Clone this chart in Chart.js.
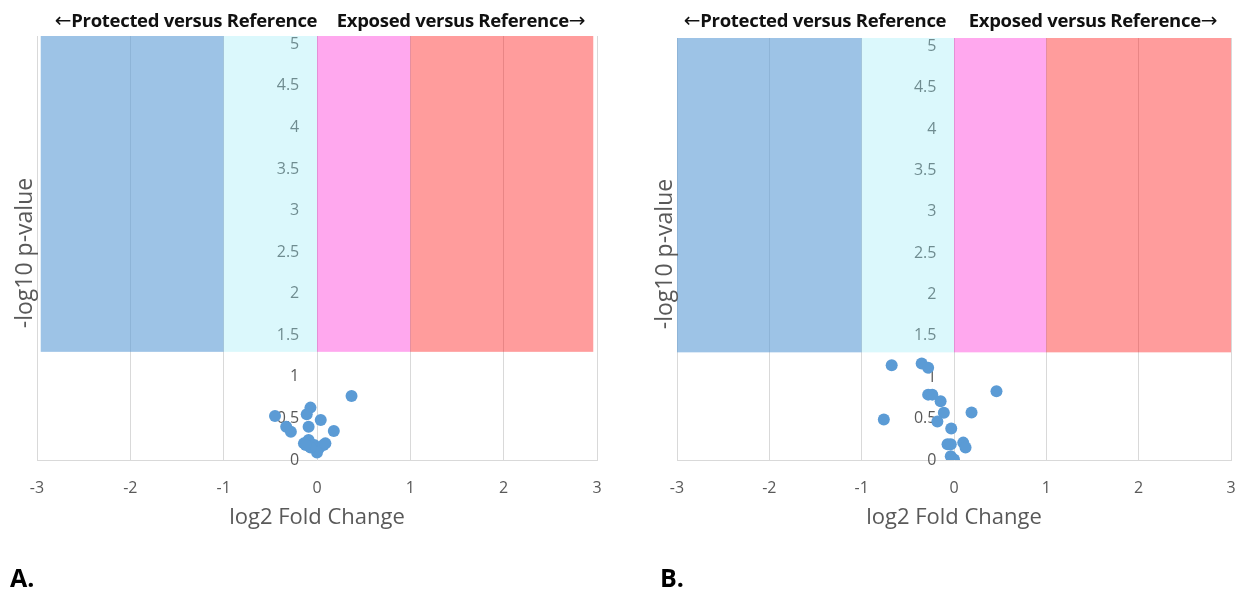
<!DOCTYPE html>
<html><head><meta charset="utf-8">
<script src="https://cdn.jsdelivr.net/npm/chart.js@4/dist/chart.umd.min.js"></script>
<style>
body{margin:0;background:#fff;width:1238px;height:597px;overflow:hidden;position:relative;font-family:"Open Sans",sans-serif;}
.wrap{position:absolute;top:0;height:597px;}
.hdr{position:absolute;top:7px;font-weight:700;font-size:18.5px;color:#111;white-space:nowrap;transform:translateX(-50%);letter-spacing:-0.3px;}
.hdr .ar{font-family:"DejaVu Sans",sans-serif;font-weight:400;font-size:20px;}
.ytitle{position:absolute;color:#595959;white-space:nowrap;transform:translate(-50%,-50%) rotate(-90deg);font-size:23px;}
.panel{position:absolute;top:560px;font-weight:700;font-size:25px;color:#000;}
</style></head>
<body>
<div class="wrap" style="left:0;width:625px"><canvas id="cA" width="625" height="597"></canvas></div>
<div class="wrap" style="left:619px;width:640px"><canvas id="cB" width="640" height="597"></canvas></div>
<div class="hdr" style="left:186px"><span class="ar">←</span>Protected versus Reference</div>
<div class="hdr" style="left:461px">Exposed versus Reference<span class="ar">→</span></div>
<div class="hdr" style="left:815px"><span class="ar">←</span>Protected versus Reference</div>
<div class="hdr" style="left:1093px">Exposed versus Reference<span class="ar">→</span></div>
<div class="ytitle" style="left:23px;top:253px">-log10 p-value</div>
<div class="ytitle" style="left:663px;top:254px">-log10 p-value</div>
<div class="panel" style="left:10px">A.</div>
<div class="panel" style="left:660px">B.</div>
<script>
// ---- data ----
const xTickValues = [-3, -2, -1, 0, 1, 2, 3];
const yTickValues = [0, 0.5, 1, 1.5, 2, 2.5, 3, 3.5, 4, 4.5, 5];
const xAxisTitle = "log2 Fold Change";
const significanceThreshold = 1.301;   // -log10(0.05)
const bandTop = 5.1;
const bandColors = ["rgba(91,155,213,0.6)", "rgba(152,235,246,0.35)", "rgba(255,0,204,0.34)", "rgba(255,0,0,0.39)"];
const panelA_bandEdges = [-2.96, -1, 0, 1, 2.96];
const panelB_bandEdges = [-3, -1, 0, 1, 3];

const panelA_log2FC   = [0.37, -0.45, -0.07, -0.11, 0.04, -0.33, -0.28, -0.09, 0.18, -0.14, -0.09, -0.03, 0.02, 0.07, 0.00, -0.07, -0.12, 0.09];
const panelA_negLogP  = [0.77, 0.53, 0.63, 0.55, 0.48, 0.40, 0.34, 0.40, 0.35, 0.20, 0.24, 0.18, 0.14, 0.18, 0.09, 0.15, 0.18, 0.20];

const panelB_log2FC   = [-0.675, -0.35, -0.28, 0.46, -0.28, -0.235, -0.145, -0.11, 0.19, -0.76, -0.18, -0.03, -0.07, -0.035, 0.10, 0.125, -0.035, 0.00];
const panelB_negLogP  = [1.144, 1.165, 1.116, 0.83, 0.79, 0.79, 0.71, 0.57, 0.575, 0.49, 0.465, 0.38, 0.19, 0.19, 0.21, 0.15, 0.046, 0.006];

// ---- chart ----
const bandPlugin = {
  id: 'bands',
  beforeDatasetsDraw(chart, args, opts) {
    const {ctx, scales: {x, y}} = chart;
    const edges = opts.edges;
    const yT = y.getPixelForValue(bandTop);
    const yB = y.getPixelForValue(significanceThreshold);
    ctx.save();
    for (let i = 0; i < edges.length - 1; i++) {
      const x0 = x.getPixelForValue(edges[i]);
      const x1 = x.getPixelForValue(edges[i + 1]);
      ctx.fillStyle = bandColors[i];
      ctx.fillRect(x0, yT, x1 - x0, yB - yT);
    }
    ctx.restore();
  }
};

function makeChart(id, xs, ys, edges, pad) {
  const pts = xs.map((v, i) => ({x: v, y: ys[i]}));
  return new Chart(document.getElementById(id), {
    type: 'scatter',
    data: {datasets: [{data: pts, pointRadius: 6, pointHoverRadius: 6, backgroundColor: '#5B9BD5', borderWidth: 0}]},
    options: {
      responsive: false, animation: false, devicePixelRatio: 1,
      layout: {padding: pad},
      plugins: {legend: {display: false}, tooltip: {enabled: false}, bands: {edges: edges}},
      scales: {
        x: {
          type: 'linear', min: xTickValues[0], max: xTickValues[xTickValues.length - 1],
          afterBuildTicks: s => { s.ticks = xTickValues.map(v => ({value: v})); },
          afterFit: s => { s.height = 71; },
          grid: {color: '#D9D9D9', drawTicks: false},
          border: {color: '#D9D9D9'},
          ticks: {color: '#595959', font: {family: 'Open Sans', size: 16}, padding: 19, callback: v => String(v)},
          title: {display: true, text: xAxisTitle, color: '#595959', font: {family: 'Open Sans', size: 22}, padding: {top: 6, bottom: 0}}
        },
        y: {
          type: 'linear', min: 0, max: bandTop, position: {x: -0.19},
          afterBuildTicks: s => { s.ticks = yTickValues.map(v => ({value: v})); },
          afterFit: s => { s.width = 0; },
          grid: {display: false, drawTicks: false},
          border: {display: false},
          ticks: {color: '#595959', font: {family: 'Open Sans', size: 16}, padding: 0, callback: v => String(v)}
        }
      }
    },
    plugins: [bandPlugin]
  });
}

makeChart('cA', panelA_log2FC, panelA_negLogP, panelA_bandEdges, {left: 37, right: 28, top: 36, bottom: 66});
makeChart('cB', panelB_log2FC, panelB_negLogP, panelB_bandEdges, {left: 58, right: 28, top: 38, bottom: 66});
</script>
</body></html>
